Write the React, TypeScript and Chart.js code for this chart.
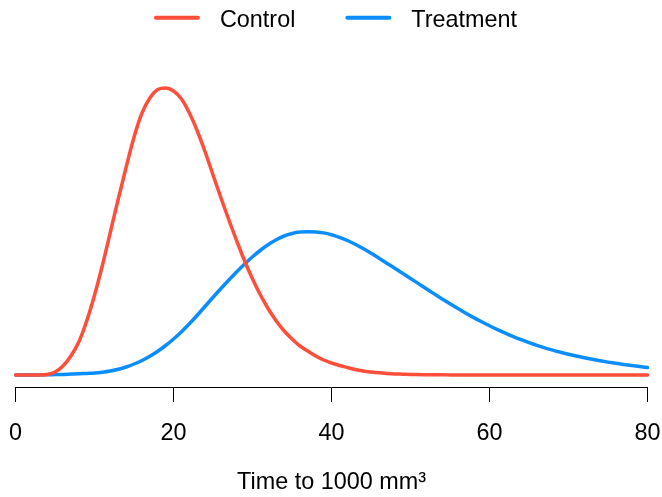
import React, { useEffect, useRef } from "react";
import { Chart, registerables } from "chart.js";

Chart.register(...registerables);

// Time grid (x values)
const timePoints = [
  0, 1, 2, 3, 4, 5, 6, 7, 8, 9, 10, 11, 12, 13, 14, 15, 16, 17, 18, 19, 20,
  21, 22, 23, 24, 25, 26, 27, 28, 29, 30, 31, 32, 33, 34, 35, 36, 37, 38, 39, 40,
  41, 42, 43, 44, 45, 46, 47, 48, 49, 50, 51, 52, 53, 54, 55, 56, 57, 58, 59, 60,
  61, 62, 63, 64, 65, 66, 67, 68, 69, 70, 71, 72, 73, 74, 75, 76, 77, 78, 79, 80,
];

// Density estimates (in units of 1e-4)
const controlDensity = [
  0, 0, 0, 0, 1, 6, 18, 38, 66, 108, 160,
  220, 286, 352, 416, 476, 524, 554, 571, 574, 568,
  552, 524, 488, 446, 400, 354, 310, 268, 228, 192,
  160, 132, 108, 88, 72, 58, 48, 38, 30, 24,
  19, 15, 11, 8, 6, 4.4, 3.2, 2.2, 1.6, 1,
  0.8, 0.6, 0.4, 0.3, 0.2, 0.1, 0, 0, 0, 0,
  0, 0, 0, 0, 0, 0, 0, 0, 0, 0,
  0, 0, 0, 0, 0, 0, 0, 0, 0, 0,
];

const treatmentDensity = [
  0, 0, 0, 0.2, 0.4, 0.8, 1.2, 1.8, 2.4, 3.2, 4,
  5.6, 8, 11.4, 16, 22, 29, 37.5, 47.5, 59, 72,
  86.5, 102.5, 119.5, 137.5, 155.5, 173, 190, 206.5, 222, 236.5,
  249.5, 261, 270.5, 278, 283, 285.8, 286.6, 286, 284.2, 280.6,
  275.4, 269, 261.4, 252.8, 243.5, 233.7, 223.7, 213.5, 203.3, 193.1,
  182.8, 172.5, 162.2, 152.2, 142.4, 132.8, 123.6, 114.8, 106.4, 98.4,
  90.8, 83.6, 76.8, 70.6, 64.8, 59.4, 54.4, 49.8, 45.6, 41.6,
  38, 34.6, 31.4, 28.5, 25.8, 23.3, 21, 18.9, 16.9, 15,
];

const seriesLabels = ["Control", "Treatment"];
const seriesColors = ["#FF4E3A", "#0A8EFF"];
const xTickValues = [0, 20, 40, 60, 80];
const xAxisTitle = "Time to 1000 mm\u00B3";

const FONT_FAMILY = "'Liberation Sans', Arial, Helvetica, sans-serif";
const FONT_SIZE = 23.4;

const legendPlugin = {
  id: "rLegend",
  afterDraw(chart: any) {
    const ctx = chart.ctx as CanvasRenderingContext2D;
    ctx.save();
    ctx.font = `${FONT_SIZE}px ${FONT_FAMILY}`;
    const lineLen = 46;
    const gap = 20;
    const itemGap = 50;
    const labels = chart.data.datasets.map((d: any) => d.label as string);
    const widths = labels.map((l: string) => ctx.measureText(l).width);
    let total = 0;
    widths.forEach((w: number, i: number) => {
      total += lineLen + gap + w + (i < widths.length - 1 ? itemGap : 0);
    });
    let x = (chart.width - total) / 2 + 4.5;
    const lineY = 17.7;
    const textY = 27.3;
    chart.data.datasets.forEach((d: any, i: number) => {
      ctx.strokeStyle = d.borderColor;
      ctx.lineWidth = 4;
      ctx.lineCap = "round";
      ctx.beginPath();
      ctx.moveTo(x + 2, lineY);
      ctx.lineTo(x + lineLen - 2, lineY);
      ctx.stroke();
      x += lineLen + gap;
      ctx.fillStyle = "#000";
      ctx.textBaseline = "alphabetic";
      ctx.textAlign = "left";
      ctx.fillText(labels[i], x, textY);
      x += widths[i] + itemGap;
    });
    ctx.restore();
  },
};

export default function App() {
  const canvasRef = useRef<HTMLCanvasElement | null>(null);

  useEffect(() => {
    document.body.style.margin = "0";
    const canvas = canvasRef.current;
    if (!canvas) return;
    const makeData = (vals: number[]) =>
      timePoints.map((t, i) => ({ x: t, y: vals[i] }));

    const lineStyle = {
      borderWidth: 3.5,
      pointRadius: 0,
      cubicInterpolationMode: "monotone" as const,
      fill: false,
      clip: false as any,
      borderCapStyle: "round" as const,
      borderJoinStyle: "round" as const,
    };

    const chart = new Chart(canvas, {
      type: "line",
      data: {
        datasets: [
          {
            label: seriesLabels[0],
            data: makeData(controlDensity),
            borderColor: seriesColors[0],
            backgroundColor: seriesColors[0],
            ...lineStyle,
          },
          {
            label: seriesLabels[1],
            data: makeData(treatmentDensity),
            borderColor: seriesColors[1],
            backgroundColor: seriesColors[1],
            ...lineStyle,
          },
        ],
      },
      options: {
        animation: false,
        responsive: true,
        maintainAspectRatio: false,
        layout: { padding: { top: 75, left: 15.6, right: 14.5, bottom: 0 } },
        plugins: {
          legend: { display: false },
          tooltip: { enabled: false },
        },
        scales: {
          x: {
            type: "linear",
            min: 0,
            max: 80,
            afterBuildTicks: (scale: any) => {
              scale.ticks = xTickValues.map((v) => ({ value: v }));
            },
            afterFit: (scale: any) => {
              scale.height = 110;
              scale.paddingLeft = 0;
              scale.paddingRight = 0;
            },
            grid: {
              display: true,
              drawOnChartArea: false,
              drawTicks: true,
              tickLength: 15,
              color: "#000",
              lineWidth: 1,
            },
            border: { display: true, color: "#000", width: 1 },
            ticks: {
              color: "#000",
              padding: 18,
              maxRotation: 0,
              autoSkip: false,
              font: { family: FONT_FAMILY, size: FONT_SIZE },
            },
            title: {
              display: true,
              text: xAxisTitle,
              color: "#000",
              font: { family: FONT_FAMILY, size: FONT_SIZE },
              padding: { top: 0, bottom: 0 },
            },
          },
          y: {
            display: false,
            min: -24,
            max: 600,
          },
        },
      },
      plugins: [legendPlugin],
    });
    return () => chart.destroy();
  }, []);

  return (
    <div style={{ width: 662, height: 497, position: "relative" }}>
      <canvas ref={canvasRef} />
    </div>
  );
}
